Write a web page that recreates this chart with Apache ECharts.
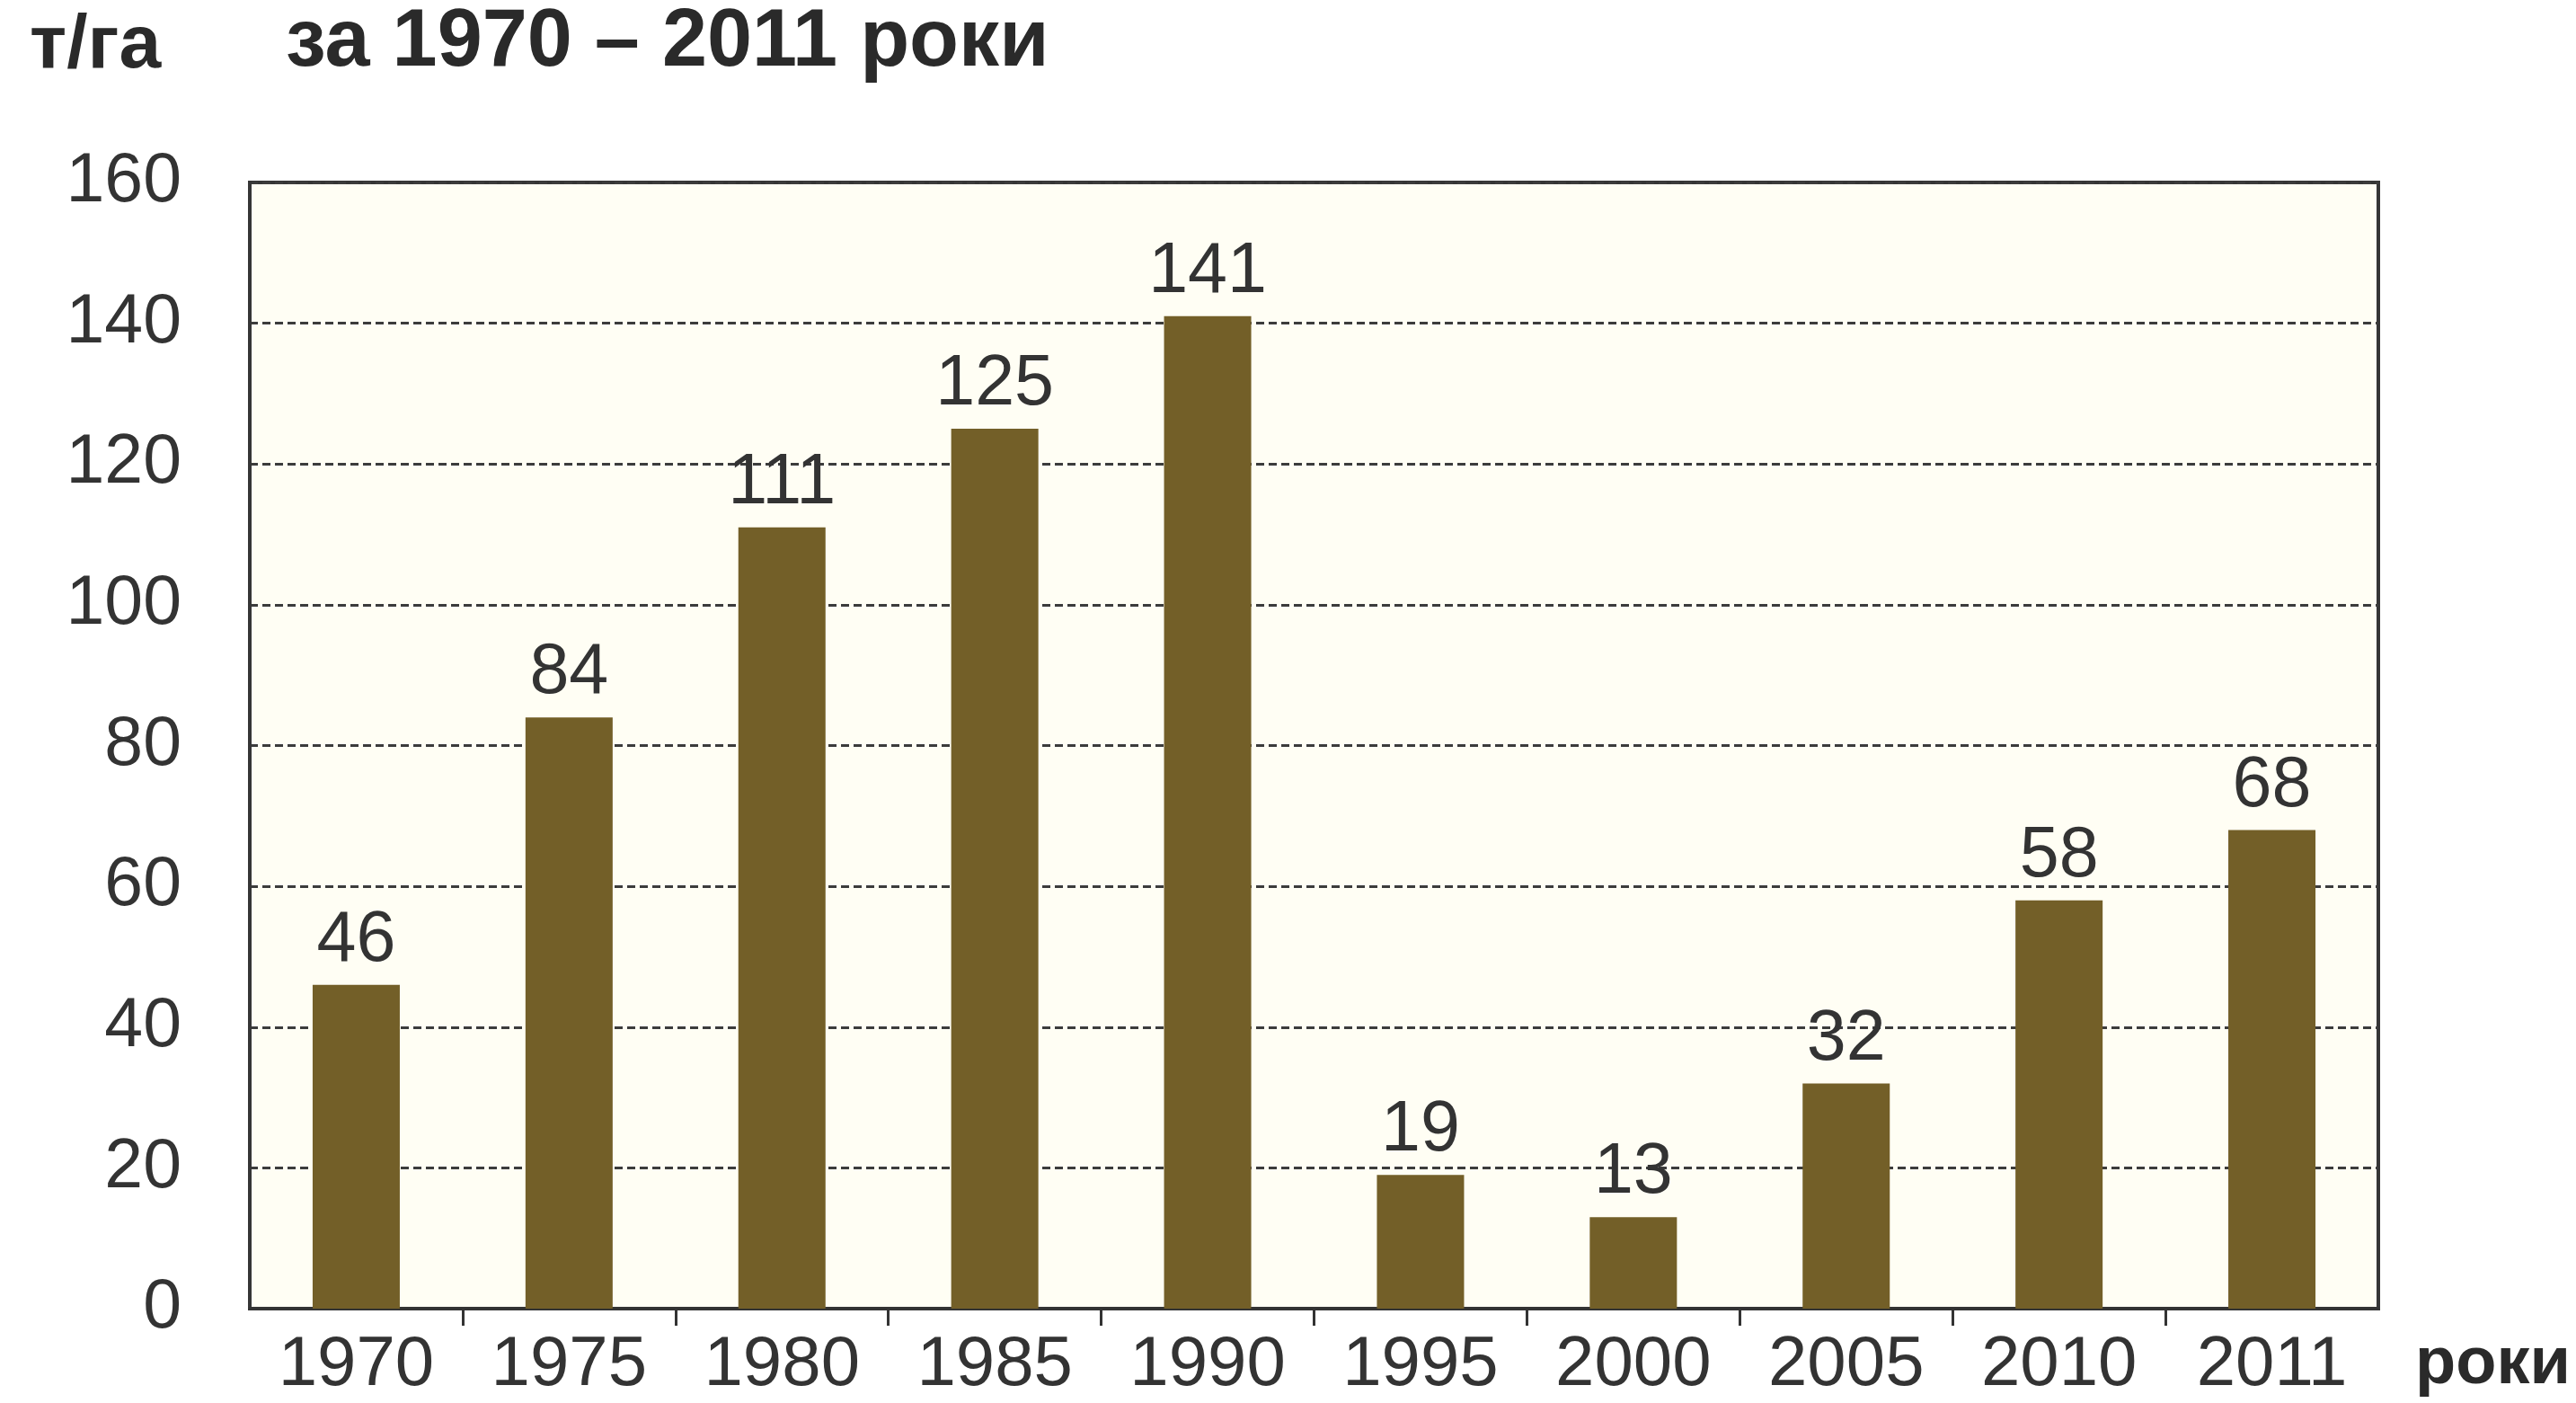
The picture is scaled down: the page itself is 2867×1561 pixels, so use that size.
<!DOCTYPE html>
<html><head><meta charset="utf-8">
<script src="https://cdn.jsdelivr.net/npm/echarts@6/dist/echarts.min.js"></script>
<style>html,body{margin:0;padding:0;background:#ffffff}#c{width:2867px;height:1561px}</style>
</head><body><div id="c"></div>
<script>
// ---- data ----
const years = ['1970', '1975', '1980', '1985', '1990', '1995', '2000', '2005', '2010', '2011'];
const values = [46, 84, 111, 125, 141, 19, 13, 32, 58, 68];
const yMin = 0, yMax = 160, yStep = 20;
const titleText = 'за 1970 – 2011 роки';
const yUnit = 'т/га';
const xUnit = 'роки';

// boundaries between categories (tick marks below the axis, corners excluded)
const boundaries = years.slice(1).map((_, i) => i + 1);

const FONT = '"Liberation Sans", Arial, Helvetica, sans-serif';
const chart = echarts.init(document.getElementById('c'), null, {renderer: 'canvas'});
chart.setOption({
  backgroundColor: '#ffffff',
  animation: false,
  grid: {
    left: 278, right: 220, top: 203, bottom: 105,
    show: true, backgroundColor: '#fffef4', borderColor: '#363636', borderWidth: 4,
    containLabel: false
  },
  xAxis: [{
    type: 'category',
    data: years,
    position: 'bottom',
    axisLine: {show: true, lineStyle: {color: '#333', width: 4}},
    axisTick: {show: false},
    axisLabel: {color: '#333', fontFamily: FONT, fontSize: 78, margin: 24}
  }, {
    type: 'value',
    position: 'bottom',
    min: 0, max: years.length,
    axisLine: {show: false},
    axisTick: {show: true, length: 19, lineStyle: {color: '#333', width: 3}, customValues: boundaries},
    axisLabel: {show: false},
    splitLine: {show: false}
  }],
  yAxis: {
    type: 'value',
    min: yMin, max: yMax, interval: yStep,
    axisLine: {show: true, lineStyle: {color: '#363636', width: 4}},
    axisTick: {show: false},
    axisLabel: {color: '#333', fontFamily: FONT, fontSize: 77, margin: 76},
    splitLine: {show: true, lineStyle: {color: '#3c3c3c', width: 3, type: [9, 5]}}
  },
  series: [{
    type: 'bar',
    xAxisIndex: 0,
    data: values,
    barWidth: 97,
    itemStyle: {color: '#735f28'},
    label: {show: true, position: 'top', distance: 9, color: '#333', fontFamily: FONT, fontSize: 79}
  }],
  graphic: [
    {type: 'text', left: 318, top: 3, style: {text: titleText, font: 'bold 90px ' + FONT, fill: '#2a2a2a'}},
    {type: 'text', left: 33, top: 10, style: {text: yUnit, font: 'bold 84px ' + FONT, fill: '#2a2a2a'}},
    {type: 'text', left: 2688, top: 1482, style: {text: xUnit, font: 'bold 74px ' + FONT, fill: '#2a2a2a'}}
  ]
});
</script>
</body></html>
